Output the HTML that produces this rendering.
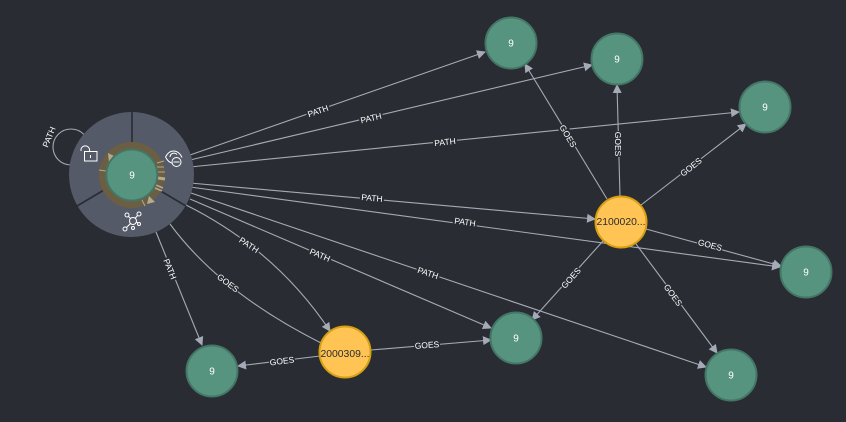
<!DOCTYPE html>
<html><head><meta charset="utf-8"><style>
html,body{margin:0;padding:0;background:#292c33;width:846px;height:422px;overflow:hidden}
svg{display:block}
text{font-family:"Liberation Sans",sans-serif}
.l{font-size:8.5px;fill:#fff;text-anchor:middle;dominant-baseline:central}
.n{font-size:10px;fill:#fff;text-anchor:middle;dominant-baseline:central}
.y{font-size:10.4px;fill:#2a2c34;text-anchor:middle;dominant-baseline:central}
.e{fill:none;stroke:#a5abb6;stroke-width:1.1}
.g{fill:#569480;stroke:#447666;stroke-width:2}
.o{fill:#ffc454;stroke:#d7a013;stroke-width:2}
.b{fill:#292c33}
.i{fill:none;stroke:#fff;stroke-width:1}
</style></head><body>
<svg width="846" height="422" viewBox="0 0 846 422" xmlns="http://www.w3.org/2000/svg">
<defs><marker id="a" markerUnits="userSpaceOnUse" markerWidth="10" markerHeight="10" refX="8" refY="5" orient="auto"><path d="M0 0.5L9 5L0 9.5Z" fill="#a5abb6"/></marker></defs>
<rect width="846" height="422" fill="#292c33"/>

<circle class="e" cx="71" cy="147" r="18"/>
<g class="e">
<line x1="190" y1="155" x2="485" y2="52" marker-end="url(#a)"/>
<line x1="190" y1="160" x2="592" y2="65" marker-end="url(#a)"/>
<line x1="190" y1="167" x2="739" y2="112" marker-end="url(#a)"/>
<line x1="190" y1="183" x2="595" y2="219" marker-end="url(#a)"/>
<line x1="190" y1="187" x2="780" y2="267" marker-end="url(#a)"/>
<line x1="190" y1="199" x2="491" y2="328" marker-end="url(#a)"/>
<line x1="188" y1="192" x2="706" y2="367" marker-end="url(#a)"/>
<line x1="156" y1="232" x2="202" y2="345" marker-end="url(#a)"/>
<path d="M186 205Q276 250 330 331" marker-end="url(#a)"/>
<path d="M170 224Q220 292 321 343"/>
<line x1="320" y1="356" x2="238" y2="366" marker-end="url(#a)"/>
<line x1="371" y1="350" x2="491" y2="340" marker-end="url(#a)"/>
<line x1="607" y1="199" x2="525" y2="64" marker-end="url(#a)"/>
<line x1="620" y1="196" x2="617" y2="85" marker-end="url(#a)"/>
<line x1="641" y1="205" x2="746" y2="124" marker-end="url(#a)"/>
<line x1="646" y1="229" x2="781" y2="266" marker-end="url(#a)"/>
<line x1="603" y1="241" x2="532" y2="320" marker-end="url(#a)"/>
<line x1="636" y1="244" x2="717" y2="353" marker-end="url(#a)"/>
</g>

<g>
<g transform="translate(49 137) rotate(-68)"><rect class="b" x="-12" y="-5" width="24" height="10"/><text class="l">PATH</text></g>
<g transform="translate(318 111) rotate(-19)"><rect class="b" x="-12" y="-5" width="24" height="10"/><text class="l">PATH</text></g>
<g transform="translate(371 118) rotate(-13)"><rect class="b" x="-12" y="-5" width="24" height="10"/><text class="l">PATH</text></g>
<g transform="translate(445 142) rotate(-6)"><rect class="b" x="-12" y="-5" width="24" height="10"/><text class="l">PATH</text></g>
<g transform="translate(372 198) rotate(5)"><rect class="b" x="-12" y="-5" width="24" height="10"/><text class="l">PATH</text></g>
<g transform="translate(465 222) rotate(8)"><rect class="b" x="-12" y="-5" width="24" height="10"/><text class="l">PATH</text></g>
<g transform="translate(320 255) rotate(23)"><rect class="b" x="-12" y="-5" width="24" height="10"/><text class="l">PATH</text></g>
<g transform="translate(428 273) rotate(18.500)"><rect class="b" x="-12" y="-5" width="24" height="10"/><text class="l">PATH</text></g>
<g transform="translate(170 269) rotate(68)"><rect class="b" x="-12" y="-5" width="24" height="10"/><text class="l">PATH</text></g>
<g transform="translate(249 245) rotate(33)"><rect class="b" x="-12" y="-5" width="24" height="10"/><text class="l">PATH</text></g>
<g transform="translate(228 283) rotate(37)"><rect class="b" x="-13" y="-5" width="26" height="10"/><text class="l">GOES</text></g>
<g transform="translate(282 361) rotate(-7)"><rect class="b" x="-13" y="-5" width="26" height="10"/><text class="l">GOES</text></g>
<g transform="translate(427 345) rotate(-4)"><rect class="b" x="-13" y="-5" width="26" height="10"/><text class="l">GOES</text></g>
<g transform="translate(568 136) rotate(59)"><rect class="b" x="-13" y="-5" width="26" height="10"/><text class="l">GOES</text></g>
<g transform="translate(618 144) rotate(90)"><rect class="b" x="-13" y="-5" width="26" height="10"/><text class="l">GOES</text></g>
<g transform="translate(691 167) rotate(-38)"><rect class="b" x="-13" y="-5" width="26" height="10"/><text class="l">GOES</text></g>
<g transform="translate(710 245) rotate(15)"><rect class="b" x="-13" y="-5" width="26" height="10"/><text class="l">GOES</text></g>
<g transform="translate(571 278) rotate(-48)"><rect class="b" x="-13" y="-5" width="26" height="10"/><text class="l">GOES</text></g>
<g transform="translate(673 295) rotate(54)"><rect class="b" x="-13" y="-5" width="26" height="10"/><text class="l">GOES</text></g>
</g>

<circle cx="131.5" cy="174.5" r="62.5" fill="#555a68"/>
<g stroke="#292c33" stroke-width="1.6">
<line x1="132" y1="112" x2="132" y2="143"/>
<line x1="77" y1="206" x2="104" y2="190"/>
<line x1="186" y1="206" x2="159" y2="190"/>
</g>
<circle cx="131.8" cy="175" r="33" fill="#6b5e42"/>
<g fill="#b5aa8c" stroke="#b5aa8c">
<path d="M108 153l8 4-7 5Z" stroke="none"/>
<path d="M149 196l-2 8 8-2Z" stroke="none"/>
<line x1="99" y1="170" x2="106" y2="171" stroke-width="1"/>
<line x1="157" y1="163" x2="164" y2="161" stroke-width="1"/>
<line x1="157" y1="167" x2="164" y2="167" stroke-width="1"/>
<line x1="158" y1="172" x2="165" y2="172" stroke-width="1"/>
<line x1="158" y1="178" x2="165" y2="179" stroke-width="3"/>
<line x1="156" y1="185" x2="163" y2="188" stroke-width="1.5"/>
<line x1="155" y1="188" x2="162" y2="191" stroke-width="1.5"/>
<line x1="142" y1="200" x2="145" y2="206" stroke-width="1"/>
</g>
<circle class="g" cx="131.8" cy="175" r="25.5"/>
<text class="n" x="132" y="176">9</text>

<g class="i">
<rect x="84.500" y="151.500" width="12.500" height="9.500"/>
<path d="M81 151v-1.500a4.300 4.300 0 0 1 8.500 0V151.500"/>
<line x1="90.500" y1="155" x2="90.500" y2="158"/>
<path d="M165.500 157c2-4 5-6 8-6 4 0 7 3 8.500 6.500M165.500 157c2 4 5 6 7.500 6.500M170 157a4 4 0 0 1 7-2.500"/>
<circle cx="176.500" cy="162" r="4.500" fill="#555a68"/>
<line x1="173.500" y1="162" x2="179.500" y2="162"/>
<circle cx="133" cy="221" r="3.500"/>
<circle cx="127" cy="215" r="2"/>
<circle cx="139" cy="214" r="2"/>
<circle cx="125" cy="229" r="2"/>
<circle cx="133" cy="228" r="1.500"/>
<circle cx="139" cy="224" r="1.500"/>
<path d="M128.500 216.500l2 2M137.500 215.500l-2.500 3M126.500 227.500l4-4M136.500 222l1.500 1"/>
</g>

<circle class="g" cx="511" cy="43" r="25.500"/><text class="n" x="511" y="44">9</text>
<circle class="g" cx="617" cy="59" r="25.500"/><text class="n" x="617" y="60">9</text>
<circle class="g" cx="765" cy="107" r="25.500"/><text class="n" x="765" y="108">9</text>
<circle class="g" cx="806" cy="272" r="25.500"/><text class="n" x="806" y="273">9</text>
<circle class="g" cx="516" cy="338" r="25.500"/><text class="n" x="516" y="339">9</text>
<circle class="g" cx="731" cy="375" r="25.500"/><text class="n" x="731" y="376">9</text>
<circle class="g" cx="212" cy="371" r="25.500"/><text class="n" x="212" y="372">9</text>
<circle class="o" cx="621" cy="222" r="25.500"/><text class="y" x="621" y="222.500">2100020...</text>
<circle class="o" cx="345" cy="352" r="25.500"/><text class="y" x="345" y="354.500">2000309...</text>
</svg>
</body></html>
